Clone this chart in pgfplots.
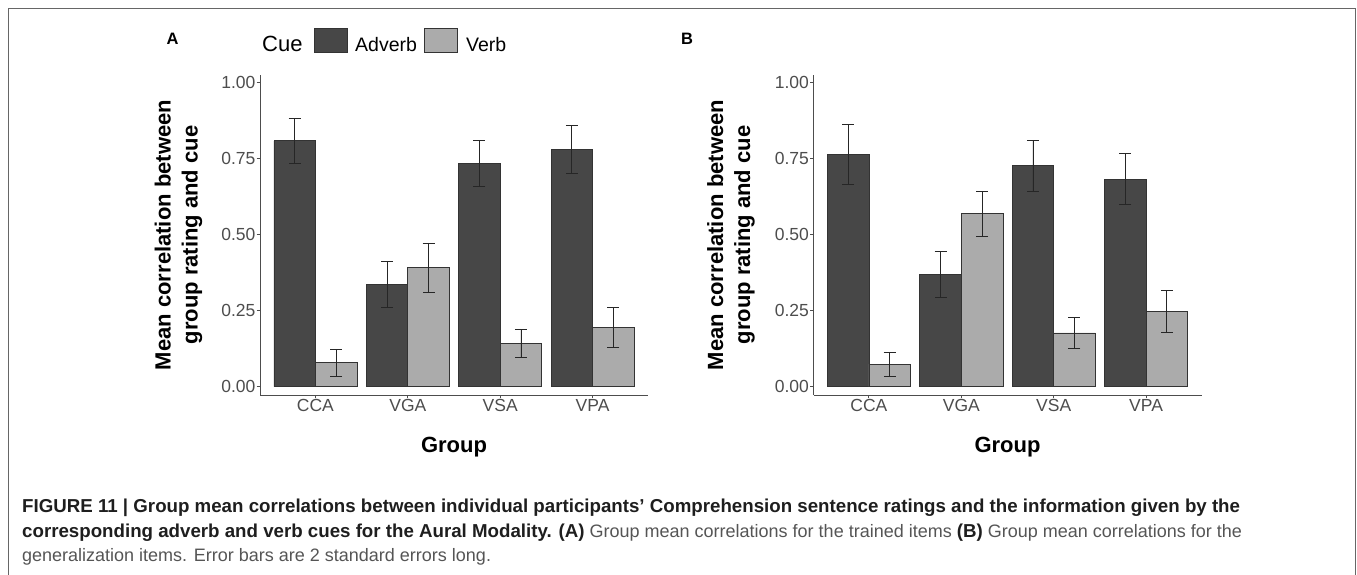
\documentclass[border=0pt]{standalone}
\usepackage{pgfplots}
\pgfplotsset{compat=1.18}
\usepackage{pgfplotstable}
\usepackage{fontspec}
\setmainfont{Liberation Sans}
\definecolor{darkbar}{HTML}{474747}
\definecolor{lightbar}{HTML}{ABABAB}
\definecolor{barline}{HTML}{333333}
\definecolor{axisgray}{HTML}{4D4D4D}
\definecolor{ticktext}{HTML}{4D4D4D}
\definecolor{captext}{HTML}{1E1E1E}
\definecolor{capgray}{HTML}{555555}
\definecolor{framegray}{HTML}{666666}

% Panel A
\pgfplotstableread{
x y e
0.775 0.809 0.074
1.775 0.336 0.076
2.775 0.735 0.075
3.775 0.781 0.079
}\advA
\pgfplotstableread{
x y e
1.225 0.079 0.045
2.225 0.391 0.082
3.225 0.143 0.047
4.225 0.196 0.066
}\verbA
% Panel B
\pgfplotstableread{
x y e
0.775 0.764 0.098
1.775 0.370 0.076
2.775 0.727 0.083
3.775 0.683 0.085
}\advB
\pgfplotstableread{
x y e
1.225 0.074 0.039
2.225 0.569 0.073
3.225 0.177 0.052
4.225 0.247 0.069
}\verbB

\pgfplotsset{
  panel/.style={
    anchor=south west, scale only axis,
    width=388bp, height=320bp,
    xmin=0.4, xmax=4.6, ymin=-0.0273, ymax=1.0253,
    axis x line*=bottom, axis y line*=left,
    axis line style={axisgray, line width=0.9bp},
    xtick={1,2,3,4}, xticklabels={CCA,VGA,VSA,VPA},
    ytick={0,0.25,0.5,0.75,1}, yticklabels={0.00,0.25,0.50,0.75,1.00},
    xtick pos=left, ytick pos=left,
    tick align=outside, major tick length=3.4bp,
    tick style={axisgray, line width=0.9bp},
    ticklabel style={font=\fontsize{17.5bp}{20bp}\selectfont, text=ticktext, inner sep=0pt},
    xticklabel style={anchor=north, yshift=-1bp},
    yticklabel style={anchor=east, xshift=-1bp},
    clip=false,
  },
  errs/.style={error bars/.cd, y dir=both, y explicit,
    error bar style={color=black!85, line width=0.8bp},
    error mark options={rotate=90, mark size=6bp, line width=0.8bp, color=black!85}},
  barA/.style={ybar, bar width=0.45, bar shift=0pt, fill=darkbar, draw=barline, line width=0.7bp, errs},
  barV/.style={ybar, bar width=0.45, bar shift=0pt, fill=lightbar, draw=barline, line width=0.7bp, errs},
}

\newcommand{\bcap}{\fontsize{18.7bp}{22bp}\selectfont\bfseries\color{captext}}

\begin{document}
\begin{tikzpicture}
\path[use as bounding box] (0,0) rectangle (1357bp,575bp);
% frame
\draw[framegray, line width=1.5bp] (8.5bp,-2bp) -- (8.5bp,566.5bp) -- (1355.5bp,566.5bp) -- (1355.5bp,-2bp);

\begin{axis}[panel, at={(260bp,180bp)}]
\addplot[barA] table[x=x, y=y, y error=e] {\advA};
\addplot[barV] table[x=x, y=y, y error=e] {\verbA};
\end{axis}

\begin{axis}[panel, at={(813.5bp,180bp)}]
\addplot[barA] table[x=x, y=y, y error=e] {\advB};
\addplot[barV] table[x=x, y=y, y error=e] {\verbB};
\end{axis}

% y labels
\node[rotate=90, align=center, inner sep=0pt, font=\fontsize{22bp}{27bp}\selectfont\bfseries]
  at (178.5bp,340bp) {Mean correlation between\\group rating and cue};
\node[rotate=90, align=center, inner sep=0pt, font=\fontsize{22bp}{27bp}\selectfont\bfseries]
  at (731bp,340bp) {Mean correlation between\\group rating and cue};
% x labels
\node[inner sep=0pt, font=\fontsize{22bp}{26bp}\selectfont\bfseries] at (454bp,128bp) {Group};
\node[inner sep=0pt, font=\fontsize{22bp}{26bp}\selectfont\bfseries] at (1007.5bp,128bp) {Group};
% panel letters
\node[inner sep=0pt, font=\fontsize{16.5bp}{20bp}\selectfont\bfseries] at (172.5bp,536bp) {A};
\node[inner sep=0pt, font=\fontsize{16.5bp}{20bp}\selectfont\bfseries] at (687bp,536bp) {B};
% legend
\node[anchor=base west, inner sep=0pt, font=\fontsize{22bp}{26bp}\selectfont] at (262bp,523.3bp) {Cue};
\draw[fill=darkbar, draw=barline, line width=0.7bp] (314bp,522.3bp) rectangle (347.3bp,546.7bp);
\node[anchor=base west, inner sep=0pt, font=\fontsize{19.5bp}{23bp}\selectfont] at (355bp,523.3bp) {Adverb};
\draw[fill=lightbar, draw=barline, line width=0.7bp] (424.3bp,522.3bp) rectangle (457.7bp,546.7bp);
\node[anchor=base west, inner sep=0pt, font=\fontsize{19.5bp}{23bp}\selectfont] at (466bp,523.3bp) {Verb};
% caption
\node[anchor=base west, inner sep=0pt] at (22bp,62bp)
  {\bcap FIGURE 11 | Group mean correlations between individual participants’ Comprehension sentence ratings and the information given by the};
\node[anchor=base west, inner sep=0pt, font=\fontsize{18bp}{22bp}\selectfont, text=capgray] at (22bp,37.5bp)
  {{\bcap corresponding adverb and verb cues for the Aural Modality. (A)} Group mean correlations for the trained items {\bcap (B)} Group mean correlations for the};
\node[anchor=base west, inner sep=0pt, font=\fontsize{18bp}{22bp}\selectfont, text=capgray] at (22bp,13.5bp)
  {generalization items. Error bars are 2 standard errors long.};
\end{tikzpicture}
\end{document}
